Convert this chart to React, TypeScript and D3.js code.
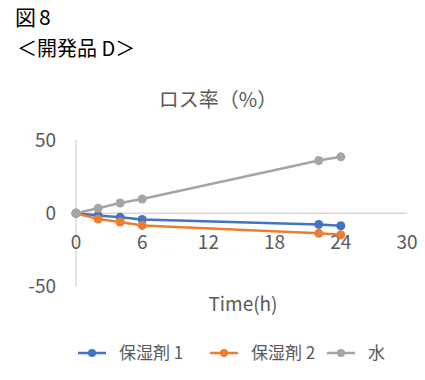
import React from "react";
import * as d3 from "d3";

const times = [0, 2, 4, 6, 22, 24];
const seriesNames = ["保湿剤 1", "保湿剤 2", "水"];
const hoshitsu1 = [0, -1.6, -2.7, -4.3, -7.6, -8.5];
const hoshitsu2 = [0, -4, -6, -8.3, -13.7, -14.6];
const mizu = [0, 3.4, 7, 9.7, 36, 38.5];
const xTicks = [0, 6, 12, 18, 24, 30];
const yTicks = [50, 0, -50];
const colors = ["#4472C4", "#ED7D31", "#A5A5A5"];

const W = 425;
const H = 380;
const FONT = "'Noto Sans CJK JP', 'Noto Sans', sans-serif";

export default function App() {
  const x = d3.scaleLinear().domain([0, 30]).range([76, 407]);
  const y = d3.scaleLinear().domain([-50, 50]).range([286.5, 140]);
  const all = [hoshitsu1, hoshitsu2, mizu];
  const line = d3
    .line<number>()
    .x((_, i) => x(times[i]))
    .y((d) => y(d));
  const legendX = [78, 210, 327];
  const textGray = "#595959";
  return (
    <svg
      width={W}
      height={H}
      style={{ position: "absolute", left: 0, top: 0, background: "#fff" }}
      fontFamily={FONT}
    >
      <rect width={W} height={H} fill="#fff" />
      <text x={15} y={25} fontSize={21} fill="#000">
        図
      </text>
      <text x={39} y={25} fontSize={21} fill="#000">
        8
      </text>
      <text x={17} y={56} fontSize={20} fill="#000">
        ＜開発品 D＞
      </text>
      <text x={218} y={107} fontSize={20} fill={textGray} textAnchor="middle">
        ロス率（%）
      </text>
      {/* axes */}
      <line x1={x(0)} x2={x(0)} y1={y(50)} y2={y(-50)} stroke="#D9D9D9" strokeWidth={1.5} />
      <line x1={x(0)} x2={x(30)} y1={y(0)} y2={y(0)} stroke="#D9D9D9" strokeWidth={1.5} />
      {yTicks.map((t) => (
        <text
          key={"y" + t}
          x={56}
          y={y(t)}
          dy="0.35em"
          fontSize={19}
          fill={textGray}
          textAnchor="end"
        >
          {t}
        </text>
      ))}
      {xTicks.map((t) => (
        <text
          key={"x" + t}
          x={x(t)}
          y={y(0) + 29}
          dy="0.35em"
          fontSize={19}
          fill={textGray}
          textAnchor="middle"
        >
          {t}
        </text>
      ))}
      <text x={243} y={311} fontSize={19} fill={textGray} textAnchor="middle">
        Time(h)
      </text>
      {all.map((s, k) => (
        <g key={k}>
          <path d={line(s) || ""} fill="none" stroke={colors[k]} strokeWidth={2.5} />
          {s.map((v, i) => (
            <circle key={i} cx={x(times[i])} cy={y(v)} r={4.5} fill={colors[k]} />
          ))}
        </g>
      ))}
      {seriesNames.map((n, k) => (
        <g key={n} transform={`translate(${legendX[k]},353)`}>
          <line x1={0} x2={28} y1={0} y2={0} stroke={colors[k]} strokeWidth={2.5} />
          <circle cx={14} cy={0} r={4} fill={colors[k]} />
          <text x={41} y={0} dy="0.35em" fontSize={17} fill={textGray}>
            {n}
          </text>
        </g>
      ))}
    </svg>
  );
}
